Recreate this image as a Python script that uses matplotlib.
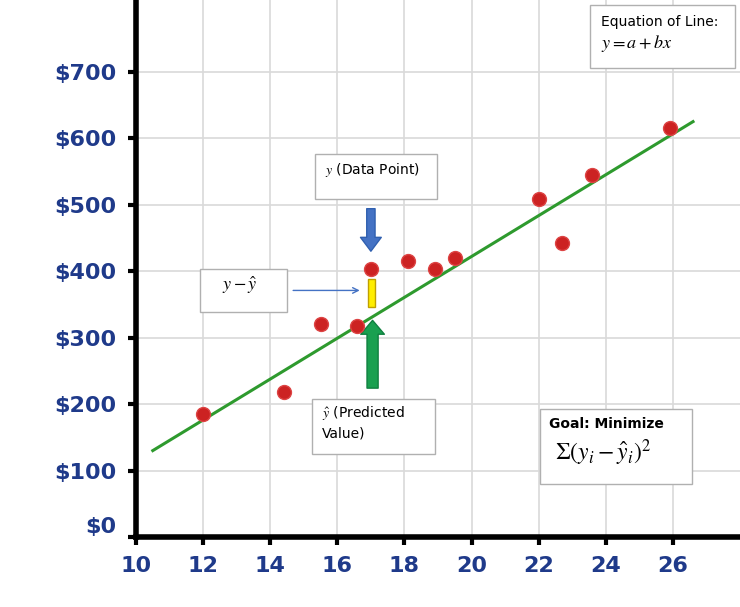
import matplotlib
matplotlib.use("Agg")
import matplotlib.pyplot as plt
from matplotlib.patches import Rectangle

plt.rcParams['mathtext.fontset'] = 'stix'

x_vals = [12.0, 14.4, 15.5, 16.6, 17.0, 18.1, 18.9, 19.5, 22.0, 22.7, 23.6, 25.9]
y_vals = [185, 218, 320, 318, 403, 415, 403, 420, 508, 443, 545, 615]
line_x = [10.5, 26.6]
line_y = [130, 625]
x_ticks = [10, 12, 14, 16, 18, 20, 22, 24, 26]
y_ticks = [0, 100, 200, 300, 400, 500, 600, 700]
y_labels = ['$0', '$100', '$200', '$300', '$400', '$500', '$600', '$700']

W, H = 740, 607
fig = plt.figure(figsize=(W / 100, H / 100), dpi=100)
ax = fig.add_axes([136 / W, 70 / H, 1 - 136 / W, 1 - 70 / H])
ax.set_xlim(10, 28)
ax.set_ylim(0, 808)

ax.set_xticks(range(10, 28, 2))
ax.set_xticklabels([str(t) for t in x_ticks])
ax.set_yticks(y_ticks)
ax.set_yticklabels([s.replace('$', r'\$') for s in y_labels])
ax.grid(True, color='#d9d9d9', lw=1.2)
ax.set_axisbelow(True)
for s in ['top', 'right']:
    ax.spines[s].set_visible(False)
for s in ['left', 'bottom']:
    ax.spines[s].set_linewidth(4)
ax.tick_params(length=6, width=3, labelsize=16, colors='black', pad=8)
for lab in ax.get_xticklabels() + ax.get_yticklabels():
    lab.set_color('#1f3a8a')
    lab.set_fontweight('bold')
ax.get_yticklabels()[0].set_va('bottom')

ax.plot(line_x, line_y, color='#2e9a2e', lw=2.2, zorder=3)
ax.scatter(x_vals, y_vals, s=100, color='#cc2222', zorder=4, edgecolors='#dd4444', linewidths=1)

# residual and arrows
ax.add_patch(Rectangle((16.92, 346), 0.2, 42, facecolor='#ffee00', edgecolor='#c0a000', lw=1, zorder=5))
ax.annotate('', xy=(17.0, 430), xytext=(17.0, 494),
            arrowprops=dict(facecolor='#4472c4', edgecolor='#3060b0', width=6, headwidth=15, headlength=10))
ax.annotate('', xy=(17.05, 326), xytext=(17.05, 224),
            arrowprops=dict(facecolor='#1aa050', edgecolor='#108040', width=8, headwidth=17, headlength=10))
ax.annotate('', xy=(16.75, 371), xytext=(14.6, 371),
            arrowprops=dict(arrowstyle='->', color='#4472c4', lw=1))


def box(x0, y0, x1, y1, text, tx, ty, **kw):
    fig.patches.append(Rectangle((x0 / W, 1 - y1 / H), (x1 - x0) / W, (y1 - y0) / H,
                                 transform=fig.transFigure, facecolor='white',
                                 edgecolor='#b0b0b0', lw=1, zorder=6))
    fig.text(tx / W, 1 - ty / H, text, zorder=7, **kw)


box(590, 5, 735, 68, 'Equation of Line:', 601, 22, fontsize=10, va='center')
fig.text(601 / W, 1 - 44 / H, r'$y = a + bx$', fontsize=13, va='center', zorder=7)
box(315, 154, 437, 199, r'$y$ (Data Point)', 325, 170, fontsize=10, va='center')
box(200, 269, 287, 312, r'$y - \hat{y}$', 222, 285, fontsize=13, va='center')
box(312, 399, 435, 454, r'$\hat{y}$ (Predicted' + '\nValue)', 322, 422, fontsize=10, va='center',
    linespacing=1.4)
box(540, 409, 692, 484, 'Goal: Minimize', 549, 424, fontsize=10, va='center', fontweight='bold')
fig.text(555 / W, 1 - 453 / H, r'$\Sigma(y_i - \hat{y}_i)^2$', fontsize=17, va='center', zorder=7)

fig.savefig('out.png', dpi=100)
